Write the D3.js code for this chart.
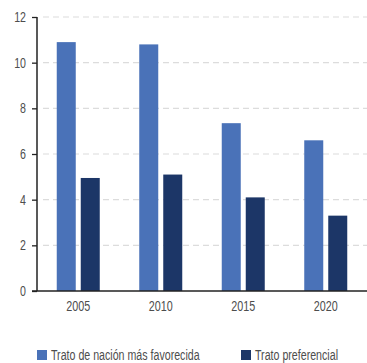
<!DOCTYPE html>
<html>
<head>
<meta charset="utf-8">
<script src="https://cdn.jsdelivr.net/npm/d3@7"></script>
<style>
  html, body { margin: 0; padding: 0; background: #fff; }
  svg text { font-family: "Liberation Sans", Arial, sans-serif; }
</style>
</head>
<body>
<svg id="chart" width="367" height="363"></svg>
<script>
const years = ["2005", "2010", "2015", "2020"];
const seriesNames = ["Trato de nación más favorecida", "Trato preferencial"];
const nmfValues = [10.9, 10.8, 7.35, 6.6];
const prefValues = [4.95, 5.1, 4.1, 3.3];
const yTicks = [0, 2, 4, 6, 8, 10, 12];
const colors = ["#4a72b8", "#1c3667"];

const svg = d3.select("#chart");
const margin = { left: 37, right: 0, top: 17, bottom: 72 };
const W = 367, H = 363;

const x = d3.scaleBand().domain(years).range([margin.left, W]).paddingInner(0).paddingOuter(0);
const y = d3.scaleLinear().domain([0, 12]).range([H - margin.bottom, margin.top]);

const barW = 19, gap = 5;

// condensed look: squeeze each label horizontally
function condense(sel, k) {
  sel.each(function () {
    const w = this.getComputedTextLength();
    d3.select(this).attr("textLength", w * k).attr("lengthAdjust", "spacingAndGlyphs");
  });
}

// dashed gridlines
svg.append("g").selectAll("line")
  .data(yTicks.filter(d => d > 0))
  .join("line")
  .attr("x1", margin.left + 6).attr("x2", W)
  .attr("y1", d => y(d)).attr("y2", d => y(d))
  .attr("stroke", "#dcdcdc").attr("stroke-width", 1.2)
  .attr("stroke-dasharray", "6,4");

// bars
const rows = years.map((yr, i) => ({ yr, vals: [nmfValues[i], prefValues[i]] }));
const g = svg.append("g");
rows.forEach(r => {
  const cx = x(r.yr) + x.bandwidth() / 2;
  r.vals.forEach((v, j) => {
    const x0 = j === 0 ? cx - gap / 2 - barW : cx + gap / 2;
    g.append("rect")
      .attr("x", x0).attr("width", barW)
      .attr("y", y(v)).attr("height", y(0) - y(v))
      .attr("fill", colors[j]);
  });
});

// y axis
const yAxis = d3.axisLeft(y).tickValues(yTicks).tickSize(5).tickPadding(6);
const ya = svg.append("g").attr("transform", `translate(${margin.left},0)`).call(yAxis);
ya.select(".domain").attr("stroke", "#222").attr("stroke-width", 1.5).attr("d", `M0,${y(12)}V${y(0)}`);
ya.selectAll(".tick line").attr("stroke", "#222").attr("stroke-width", 1.3);
ya.selectAll(".tick text").attr("fill", "#4d4d4d").style("font-size", "14px").call(condense, 0.76);

// x axis
const xAxis = d3.axisBottom(x).tickSize(0).tickPadding(10);
const xa = svg.append("g").attr("transform", `translate(0,${y(0)})`).call(xAxis);
xa.select(".domain").attr("stroke", "#222").attr("stroke-width", 1.5).attr("d", `M${margin.left - 5},0H${W}`);
xa.selectAll(".tick text").attr("fill", "#4d4d4d").style("font-size", "14px").call(condense, 0.77);

// legend
const legendX = [37, 241];
const lg = svg.append("g");
seriesNames.forEach((name, i) => {
  lg.append("rect").attr("x", legendX[i]).attr("y", 350).attr("width", 10).attr("height", 10).attr("fill", colors[i]);
  lg.append("text").attr("x", legendX[i] + 14).attr("y", 360)
    .attr("fill", "#4d4d4d").style("font-size", "14px").text(name)
    .call(condense, 0.76);
});
</script>
</body>
</html>
